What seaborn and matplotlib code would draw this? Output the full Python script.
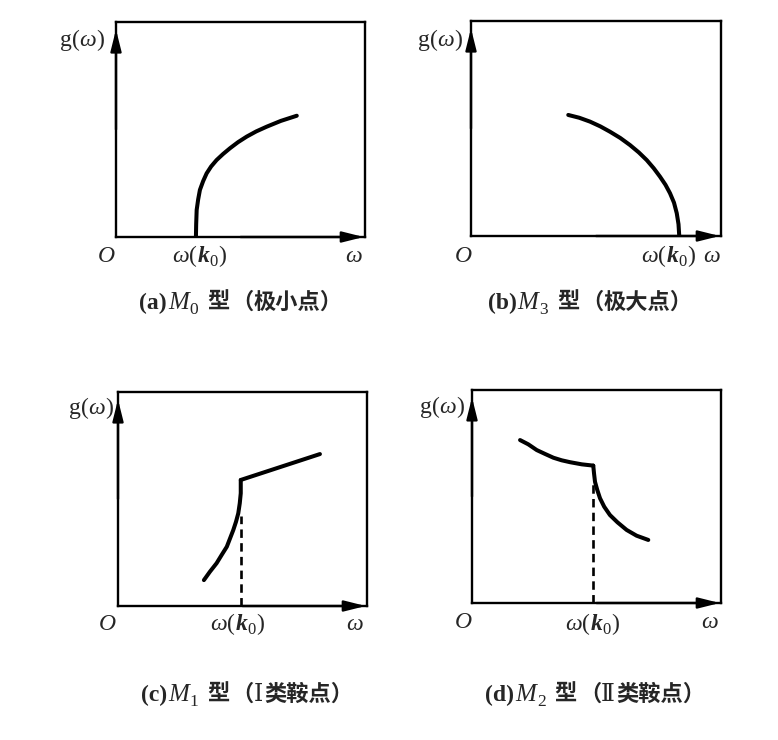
import matplotlib
matplotlib.use("Agg")
import matplotlib.pyplot as plt
import seaborn as sns

# ---------------- data (axes in 0..10 units) ----------------
a_x = [3.21, 3.22, 3.24, 3.30, 3.37, 3.50, 3.64, 3.82, 4.04, 4.30, 4.58, 4.90, 5.25, 5.63, 6.05, 6.62, 7.26]
a_y = [0.00, 0.60, 1.26, 1.75, 2.19, 2.60, 2.96, 3.28, 3.58, 3.86, 4.13, 4.41, 4.67, 4.91, 5.13, 5.40, 5.64]

b_x = [3.89, 4.33, 4.76, 5.17, 5.56, 5.97, 6.36, 6.71, 7.03, 7.31, 7.56, 7.78, 7.96, 8.12, 8.23, 8.30, 8.33]
b_y = [5.63, 5.50, 5.32, 5.10, 4.85, 4.56, 4.23, 3.89, 3.53, 3.15, 2.76, 2.38, 1.99, 1.55, 1.06, 0.55, 0.00]

c_low_x = [3.45, 3.69, 3.96, 4.16, 4.37, 4.50, 4.63, 4.74, 4.83, 4.89, 4.93, 4.93]
c_low_y = [1.21, 1.60, 2.00, 2.38, 2.77, 3.16, 3.55, 3.94, 4.33, 4.80, 5.27, 5.89]
c_up_x = [4.93, 8.11]
c_up_y = [5.89, 7.10]

d_left_x = [1.93, 2.26, 2.60, 2.93, 3.27, 3.60, 3.94, 4.41, 4.87]
d_left_y = [7.65, 7.45, 7.18, 7.00, 6.82, 6.70, 6.61, 6.51, 6.45]
d_right_x = [4.87, 4.90, 4.94, 5.03, 5.14, 5.31, 5.54, 5.84, 6.21, 6.61, 7.08]
d_right_y = [6.45, 6.09, 5.69, 5.31, 4.92, 4.52, 4.13, 3.79, 3.43, 3.16, 2.96]

k0 = {"a": 3.21, "b": 8.33, "c": 4.93, "d": 4.87}
dash_top = {"c": 4.2, "d": 5.7}

captions = {
    "a": ("(a)", "0", "", "极小点"),
    "b": ("(b)", "3", "", "极大点"),
    "c": ("(c)", "1", "Ⅰ", "类鞍点"),
    "d": ("(d)", "2", "Ⅱ", "类鞍点"),
}

# ---------------- style ----------------
sns.set_style("white")
plt.rcParams["font.family"] = ["Liberation Serif", "Noto Sans CJK SC", "DejaVu Sans"]

W, H = 778, 740
fig = plt.figure(figsize=(W / 100, H / 100), dpi=100)

# boxes in pixels: left, top, right, bottom
boxes = {
    "a": (116, 22, 365, 237),
    "b": (471, 21, 721, 236),
    "c": (118, 392, 367, 606),
    "d": (472, 390, 721, 603),
}

LW_BOX = 1.7
LW_CURVE = 2.9

arrow = dict(arrowstyle="-|>,head_length=1.0,head_width=0.25",
             lw=LW_BOX, color="black", shrinkA=0, shrinkB=0, mutation_scale=13)

axes = {}
for key, (l, t, r, b) in boxes.items():
    ax = fig.add_axes([l / W, 1 - b / H, (r - l) / W, (b - t) / H])
    ax.set_xlim(0, 10)
    ax.set_ylim(0, 10)
    ax.set_xticks([])
    ax.set_yticks([])
    for s in ax.spines.values():
        s.set_visible(True)
        s.set_linewidth(LW_BOX)
        s.set_color("black")
    ax.annotate("", xy=(0, 0.965), xytext=(0, 0.5), xycoords="axes fraction",
                arrowprops=arrow, annotation_clip=False)
    ax.annotate("", xy=(0.995, 0), xytext=(0.5, 0), xycoords="axes fraction",
                arrowprops=arrow, annotation_clip=False)
    axes[key] = ax

kw = dict(color="black", linewidth=LW_CURVE, sort=False, estimator=None,
          solid_capstyle="round", solid_joinstyle="round")
sns.lineplot(x=a_x, y=a_y, ax=axes["a"], **kw)
sns.lineplot(x=b_x, y=b_y, ax=axes["b"], **kw)
sns.lineplot(x=c_low_x, y=c_low_y, ax=axes["c"], **kw)
sns.lineplot(x=c_up_x, y=c_up_y, ax=axes["c"], **kw)
sns.lineplot(x=d_left_x, y=d_left_y, ax=axes["d"], **kw)
sns.lineplot(x=d_right_x, y=d_right_y, ax=axes["d"], **kw)
for key in ("c", "d"):
    axes[key].plot([k0[key], k0[key]], [0, dash_top[key]], color="black",
                   lw=1.9, dashes=(3.2, 2.0))

# ---------------- text helper (pixel coords, y from top = baseline) ----------------
fig.canvas.draw()
renderer = fig.canvas.get_renderer()

SERIF = "Liberation Serif"
CJK = "Noto Sans CJK SC"


def put_runs(x, y, runs, align="center"):
    items = []
    total = 0.0
    for s, props, dy, gap in runs:
        if s == "":
            continue
        t = fig.text(0, 0, s, ha="left", va="baseline", **props)
        w = t.get_window_extent(renderer).width
        items.append((t, w, dy, gap))
        total += w + gap
    if align == "center":
        x0 = x - total / 2
    elif align == "right":
        x0 = x - total
    else:
        x0 = x
    for t, w, dy, gap in items:
        t.set_position((x0 / W, 1 - (y + dy) / H))
        x0 += w + gap


FS = 17
it = dict(family=SERIF, style="italic", size=FS)
rm = dict(family=SERIF, size=FS)
bi = dict(family=SERIF, style="italic", weight="bold", size=FS)
sub = dict(family=SERIF, size=12)


def g_label(xr, y):
    put_runs(xr, y, [("g", rm, 0, 0), ("(", rm, 0, 0), ("ω", it, 0, 0), (")", rm, 0, 0)],
             align="right")


def wk_label(xc, y):
    put_runs(xc, y, [("ω", it, 0, 0), ("(", rm, 0, 1), ("k", bi, 0, 0),
                     ("0", sub, 4, 0), (")", rm, 0, 0)])


def caption(xc, y, key):
    lab, s, roman, name = captions[key]
    cap_b = dict(family=SERIF, weight="bold", size=17)
    cap_i = dict(family=SERIF, style="italic", size=18)
    cap_s = dict(family=SERIF, size=12.5)
    cj = dict(family=[CJK, "DejaVu Sans"], weight="bold", size=16)
    rn = dict(family=["DejaVu Serif", CJK], size=17)
    put_runs(xc, y, [(lab, cap_b, 0, 1), ("M", cap_i, 0, 1), (s, cap_s, 5, 9),
                     ("型", cj, 0, 2), ("（", cj, 0, 0), (roman, rn, 0, 1),
                     (name + "）", cj, 0, 0)])


# panel (a)
g_label(104, 46)
put_runs(106, 262, [("O", it, 0, 0)])
wk_label(199, 262)
put_runs(354, 262, [("ω", it, 0, 0)])
caption(241, 309, "a")

# panel (b)
g_label(462, 46)
put_runs(463, 262, [("O", it, 0, 0)])
wk_label(668, 262)
put_runs(712, 262, [("ω", it, 0, 0)])
caption(590, 309, "b")

# panel (c)
g_label(113, 414)
put_runs(107, 630, [("O", it, 0, 0)])
wk_label(237, 630)
put_runs(355, 630, [("ω", it, 0, 0)])
caption(247, 701, "c")

# panel (d)
g_label(464, 413)
put_runs(463, 628, [("O", it, 0, 0)])
wk_label(592, 630)
put_runs(710, 628, [("ω", it, 0, 0)])
caption(595, 701, "d")

fig.savefig("out.png", dpi=100, facecolor="white")
